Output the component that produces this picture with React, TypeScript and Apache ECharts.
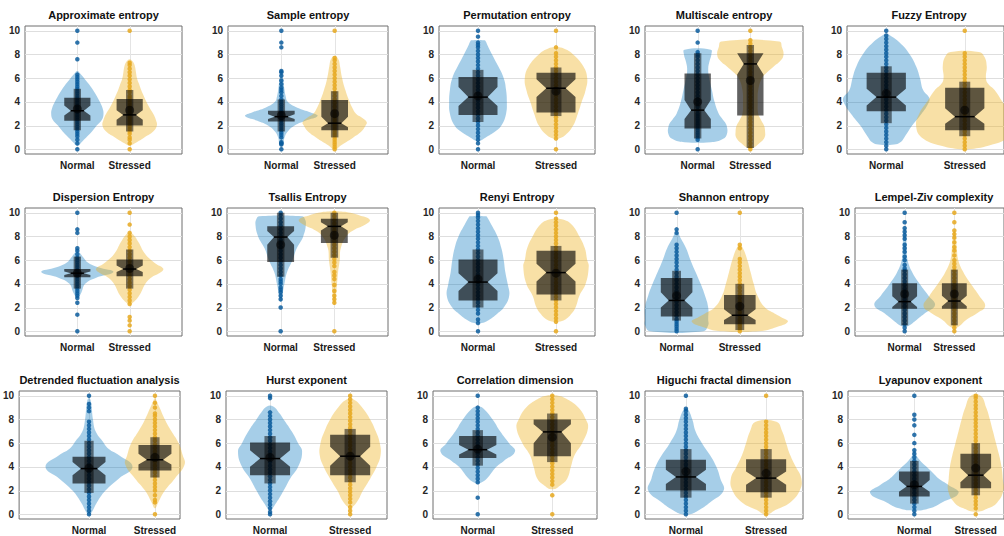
import React, { useEffect, useRef } from 'react';
import * as echarts from 'echarts';

const titles = [
  'Approximate entropy', 'Sample entropy', 'Permutation entropy', 'Multiscale entropy', 'Fuzzy Entropy',
  'Dispersion Entropy', 'Tsallis Entropy', 'Renyi Entropy', 'Shannon entropy', 'Lempel-Ziv complexity',
  'Detrended fluctuation analysis', 'Hurst exponent', 'Correlation dimension', 'Higuchi fractal dimension', 'Lyapunov exponent',
];
const categories = ['Normal', 'Stressed'];
const categoryPos = [1, 2];
const yTicks = [0, 2, 4, 6, 8, 10];

// violin outlines: [value, half-width] pairs, bottom to top
const normalViolins: number[][][] = [
  [[0.3,0.02],[0.6,0.08],[1,0.17],[1.5,0.28],[2,0.37],[2.5,0.47],[3,0.5],[3.5,0.48],[4,0.43],[4.5,0.37],[5,0.3],[5.5,0.22],[6,0.13],[6.3,0.07],[6.6,0]],
  [[0.3,0.02],[0.5,0.04],[1,0.06],[1.5,0.12],[2,0.25],[2.4,0.45],[2.8,0.68],[3.1,0.55],[3.5,0.3],[4,0.12],[4.5,0.08],[5,0.06],[6,0.03],[6.6,0]],
  [[0.7,0.02],[1,0.1],[1.5,0.22],[2,0.3],[3,0.36],[4,0.37],[5,0.36],[6,0.33],[7,0.26],[8,0.18],[8.8,0.12],[9.1,0.1],[9.2,0.08]],
  [[0.6,0.25],[0.8,0.45],[1.2,0.55],[2,0.55],[2.5,0.48],[3,0.4],[4,0.32],[5,0.27],[6,0.22],[6.8,0.2],[7.5,0.23],[8,0.26],[8.4,0.25]],
  [[0.4,0.1],[0.6,0.18],[1,0.23],[2,0.33],[3,0.45],[3.8,0.53],[4.3,0.55],[5,0.47],[6,0.43],[7,0.38],[8,0.3],[9,0.17],[9.6,0.05],[9.7,0]],
  [[2.9,0.02],[3.3,0.08],[4,0.15],[4.5,0.35],[5,0.69],[5.4,0.4],[5.8,0.2],[6.2,0.12],[6.6,0.05],[6.8,0]],
  [[2.5,0.01],[3,0.03],[4,0.07],[5,0.12],[6,0.22],[7,0.3],[8,0.42],[9,0.47],[9.5,0.45],[9.7,0.4]],
  [[0.7,0.05],[1,0.15],[1.5,0.25],[2,0.33],[3,0.4],[4,0.38],[5,0.35],[6,0.33],[7,0.3],[8,0.25],[9,0.17],[9.6,0.12],[9.7,0.1]],
  [[0,0.42],[0.5,0.5],[1,0.5],[2,0.5],[3,0.45],[4,0.38],[5,0.3],[6,0.22],[7,0.15],[7.8,0.07],[8.4,0]],
  [[0.4,0.05],[1,0.25],[1.5,0.4],[2.2,0.61],[3,0.48],[4,0.3],[5,0.15],[6,0.06],[7,0.04],[8,0.03],[8.7,0]],
  [[0,0.02],[1,0.12],[2,0.25],[3,0.45],[4,0.66],[5,0.45],[5.5,0.3],[6.2,0.2],[7,0.1],[8,0.06],[9.5,0.03],[9.8,0]],
  [[0.4,0],[1,0.08],[2,0.17],[3,0.25],[4,0.35],[5.3,0.4],[6,0.35],[7,0.27],[8,0.17],[8.5,0.12],[9.1,0.04]],
  [[2.6,0.02],[3,0.12],[4,0.25],[4.5,0.35],[5.3,0.5],[6,0.42],[7,0.3],[8,0.2],[9,0.06],[9.1,0]],
  [[0,0.05],[0.3,0.15],[1,0.3],[2,0.47],[3,0.43],[4,0.38],[5,0.3],[6,0.2],[7,0.12],[8,0.08],[8.9,0.02]],
  [[0.3,0],[0.5,0.25],[1,0.45],[1.8,0.72],[2.5,0.55],[3,0.4],[3.5,0.3],[4,0.2],[4.5,0.1],[5,0.03],[5.5,0]],
];
const stressedViolins: number[][][] = [
  [[0.3,0.02],[0.5,0.1],[1,0.28],[1.5,0.45],[2,0.52],[2.5,0.5],[3,0.45],[3.5,0.38],[4,0.32],[4.5,0.27],[5,0.22],[5.5,0.18],[6,0.14],[6.5,0.12],[7,0.1],[7.4,0.06],[7.6,0]],
  [[0,0.03],[0.2,0.08],[0.5,0.18],[1,0.35],[1.5,0.5],[2,0.58],[2.3,0.6],[2.7,0.5],[3,0.4],[3.5,0.33],[4,0.28],[5,0.2],[6,0.14],[7,0.1],[7.6,0.07],[7.9,0]],
  [[0.9,0.03],[1.2,0.12],[2,0.22],[3,0.28],[4,0.33],[5,0.38],[6,0.4],[7,0.35],[8,0.22],[8.5,0.1],[8.6,0]],
  [[0.1,0.05],[0.5,0.17],[1,0.27],[1.5,0.28],[2,0.26],[2.5,0.2],[3,0.15],[4,0.14],[5,0.15],[6,0.22],[6.5,0.32],[7,0.45],[7.5,0.58],[8,0.63],[8.6,0.6],[9.1,0.55]],
  [[0,0.05],[0.3,0.3],[1,0.55],[2,0.62],[3,0.58],[4,0.48],[5,0.38],[5.5,0.3],[6,0.27],[7,0.28],[7.8,0.25],[8.2,0.18]],
  [[2.3,0.03],[3,0.18],[4,0.3],[4.5,0.4],[5,0.6],[5.3,0.64],[5.7,0.5],[6.5,0.3],[7.5,0.17],[8,0.1],[8.3,0.03]],
  [[2.3,0.01],[3,0.03],[4,0.05],[5,0.07],[6,0.1],[7,0.12],[8,0.22],[8.5,0.35],[9,0.58],[9.4,0.66],[9.8,0.45],[10,0.3],[10.1,0.1]],
  [[0.8,0.03],[1,0.12],[1.5,0.2],[2,0.25],[3,0.3],[4,0.38],[5.5,0.42],[6,0.4],[7,0.37],[8,0.3],[9,0.2],[9.4,0.1],[9.5,0]],
  [[0,0.3],[0.3,0.55],[0.8,0.76],[1.2,0.65],[1.5,0.55],[2,0.4],[3,0.28],[4,0.22],[5,0.17],[6,0.12],[7,0.05],[7.3,0]],
  [[0.3,0.05],[1,0.25],[1.5,0.45],[2.1,0.62],[3,0.5],[4,0.33],[5,0.18],[6,0.08],[7,0.05],[8,0.03],[8.5,0]],
  [[0.5,0],[1,0.05],[2,0.15],[3,0.3],[4.2,0.45],[5,0.42],[6,0.36],[7,0.25],[8,0.15],[9,0.07],[9.5,0.03],[9.8,0]],
  [[0.6,0],[1,0.08],[2,0.16],[3,0.25],[4,0.33],[5,0.38],[6,0.37],[7,0.32],[8,0.25],[9,0.15],[9.7,0.04]],
  [[2.1,0],[2.5,0.12],[3,0.2],[4,0.25],[5,0.3],[6,0.4],[7.3,0.48],[8,0.45],[9,0.35],[9.7,0.2],[10,0.08]],
  [[0,0.03],[0.3,0.1],[1,0.3],[2,0.42],[3,0.44],[4,0.37],[5,0.3],[6,0.25],[7,0.2],[7.8,0.13]],
  [[0.2,0],[0.5,0.2],[1,0.35],[2,0.45],[3,0.44],[4,0.42],[5,0.38],[6,0.33],[7,0.28],[8,0.23],[9,0.17],[10,0.08]],
];

// box statistics: [whiskerLow, q1, notchLow, median, notchHigh, q3, whiskerHigh, mean]
const normalBoxes: number[][] = [
  [1.6, 2.4, 2.85, 3.25, 3.7, 4.35, 5.1, 3.4],
  [1.5, 2.35, 2.55, 2.75, 2.95, 3.25, 4.2, 2.85],
  [2.3, 2.9, 3.65, 4.4, 5.25, 6.1, 6.7, 4.5],
  [0.9, 1.75, 2.55, 3.3, 4.15, 6.4, 8.1, 4.0],
  [2.2, 3.2, 3.7, 4.4, 5.1, 6.45, 7.0, 4.7],
  [3.6, 4.55, 4.75, 4.9, 5.05, 5.25, 6.3, 4.9],
  [4.6, 5.85, 7.3, 7.95, 8.45, 8.85, 10, 7.3],
  [2.0, 2.6, 3.4, 4.15, 4.9, 6.05, 6.9, 4.4],
  [0.9, 1.25, 2.0, 2.6, 3.3, 4.5, 5.1, 3.0],
  [0.5, 1.9, 2.05, 2.5, 2.95, 4.05, 5.2, 3.15],
  [1.8, 2.6, 3.3, 3.85, 4.4, 4.85, 6.2, 3.9],
  [2.6, 3.3, 4.0, 4.7, 5.4, 6.05, 6.6, 4.8],
  [4.1, 4.75, 5.05, 5.45, 5.85, 6.6, 7.1, 5.5],
  [1.4, 2.0, 2.55, 3.15, 3.75, 4.6, 5.5, 3.6],
  [0.9, 1.5, 1.9, 2.35, 2.9, 3.6, 4.5, 2.5],
];
const stressedBoxes: number[][] = [
  [1.5, 2.0, 2.5, 2.9, 3.3, 4.25, 5.0, 3.3],
  [1.0, 1.6, 1.85, 2.2, 2.75, 4.15, 4.9, 3.0],
  [2.8, 3.1, 4.4, 5.15, 5.9, 6.45, 6.9, 4.9],
  [0.1, 2.85, 6.3, 7.2, 8.1, 8.1, 8.8, 5.8],
  [1.1, 1.6, 2.15, 2.75, 3.45, 5.2, 5.7, 3.3],
  [3.6, 4.65, 5.0, 5.25, 5.55, 6.05, 6.9, 5.3],
  [6.2, 7.45, 8.5, 8.85, 9.2, 9.5, 10, 8.1],
  [2.6, 3.1, 4.2, 4.95, 5.7, 6.8, 7.2, 4.9],
  [0.1, 0.6, 0.95, 1.35, 1.85, 3.05, 4.0, 2.1],
  [0.5, 1.9, 2.1, 2.55, 3.0, 4.05, 5.2, 3.15],
  [3.1, 3.7, 4.2, 4.6, 5.1, 5.85, 6.5, 4.8],
  [2.7, 3.3, 4.1, 4.9, 5.7, 6.7, 7.2, 4.9],
  [4.4, 4.9, 6.0, 6.95, 7.6, 8.0, 8.5, 6.5],
  [1.4, 1.85, 2.5, 3.05, 3.6, 4.65, 5.5, 3.45],
  [1.6, 2.2, 2.7, 3.3, 3.9, 5.1, 6.0, 3.9],
];

// individual observations
const normalPoints: number[][] = [
  [0,0.5,0.8,1.1,1.3,1.5,1.7,1.9,2.1,2.3,2.5,2.7,2.9,3.1,3.3,3.5,3.7,3.9,4.1,4.3,4.5,4.7,4.9,5.1,5.3,5.5,5.7,5.9,6.1,6.3,7.6,9.0,10],
  [0,0.4,0.5,0.6,1.0,1.2,1.4,1.6,1.8,2.0,2.2,2.4,2.6,2.8,3.0,3.2,3.4,3.6,3.8,4.0,4.2,4.5,4.8,5.0,5.2,5.5,5.8,6.2,6.5,6.6,8.6,9.0,10],
  [0,0.5,0.8,1.1,1.4,1.7,2.0,2.3,2.6,2.9,3.2,3.5,3.8,4.1,4.4,4.7,5.0,5.3,5.6,5.9,6.2,6.5,6.8,7.1,7.4,7.7,8.0,8.3,8.6,8.8,9.0,9.5,10],
  [0,0.8,1.0,1.2,1.4,1.6,1.8,2.0,2.2,2.4,2.6,2.8,3.0,3.3,3.6,3.9,4.2,4.5,4.8,5.1,5.4,5.7,6.0,6.3,6.6,6.9,7.2,7.5,7.8,8.0,8.2,9.0,10],
  [0,0.3,0.6,0.9,1.2,1.5,1.8,2.1,2.4,2.7,3.0,3.3,3.6,3.9,4.2,4.5,4.8,5.1,5.4,5.7,6.0,6.3,6.6,6.9,7.2,7.5,7.8,8.1,8.4,8.7,9.0,9.3,9.6,10],
  [0,1.4,2.4,2.8,3.0,3.2,3.4,3.6,3.8,4.0,4.2,4.4,4.6,4.8,5.0,5.2,5.4,5.6,5.8,6.0,6.2,6.5,6.8,7.0,8.3,8.6,10],
  [0,2.0,2.7,3.0,3.3,3.5,3.7,4.0,4.2,4.4,4.7,5.0,5.3,5.6,5.9,6.2,6.5,6.8,7.1,7.4,7.7,8.0,8.3,8.6,8.9,9.2,9.5,9.8,10],
  [0,0.7,1.0,1.5,1.8,2.1,2.4,2.7,3.0,3.3,3.6,3.9,4.2,4.5,4.8,5.1,5.4,5.7,6.0,6.3,6.6,6.9,7.2,7.5,7.8,8.1,8.4,8.7,9.0,9.3,9.6,9.8,10],
  [0,0.2,0.4,0.6,0.8,1.0,1.3,1.6,1.9,2.2,2.5,2.8,3.1,3.4,3.7,4.0,4.3,4.6,4.9,5.2,5.5,5.8,6.1,6.4,6.7,7.0,7.3,8.3,8.6,10],
  [0,0.3,0.6,0.9,1.2,1.5,1.8,2.1,2.4,2.7,3.0,3.3,3.6,3.9,4.2,4.5,4.8,5.1,5.3,5.6,6.0,6.3,6.7,7.0,7.3,7.8,8.1,8.4,8.7,9.2,10],
  [0,0.3,0.6,0.9,1.2,1.5,1.8,2.1,2.4,2.7,3.0,3.3,3.6,3.9,4.2,4.5,4.8,5.1,5.4,5.7,6.0,6.3,6.6,6.9,7.2,7.5,7.8,8.7,9.0,9.3,10],
  [0,0.2,0.5,0.8,1.1,1.4,1.7,2.0,2.3,2.6,2.9,3.2,3.5,3.8,4.1,4.4,4.7,5.0,5.3,5.6,5.9,6.2,6.5,6.8,7.1,7.4,7.7,8.0,8.3,8.6,9.8,10],
  [0,1.4,2.7,3.0,3.3,3.6,3.9,4.2,4.5,4.8,5.1,5.4,5.7,6.0,6.3,6.6,6.9,7.2,7.5,7.8,8.1,8.4,8.7,9.0,10],
  [0,0.3,0.6,0.9,1.2,1.5,1.8,2.1,2.4,2.7,3.0,3.3,3.6,3.9,4.2,4.5,4.8,5.1,5.4,5.7,6.0,6.3,6.6,6.9,7.2,7.5,7.8,8.1,8.4,8.7,8.9,10],
  [0,0.3,0.6,0.9,1.2,1.5,1.8,2.1,2.4,2.7,3.0,3.3,3.6,3.9,4.2,4.5,4.8,5.1,5.4,6.0,6.7,7.5,8.0,8.4,10],
];
const stressedPoints: number[][] = [
  [0,0.5,0.8,1.0,1.3,1.5,1.7,1.9,2.1,2.3,2.5,2.7,2.9,3.1,3.3,3.5,3.7,3.9,4.1,4.3,4.5,4.8,5.0,5.3,5.6,5.9,6.2,6.5,6.8,7.1,7.3,10],
  [0,0.2,0.4,0.6,0.8,1.0,1.2,1.4,1.6,1.8,2.0,2.2,2.4,2.6,2.8,3.0,3.3,3.6,3.9,4.2,4.5,4.8,5.1,5.4,5.7,6.0,6.3,6.6,6.9,7.2,7.5,7.7,10],
  [0,0.9,1.2,1.5,1.8,2.1,2.4,2.7,3.0,3.3,3.6,3.9,4.2,4.5,4.8,5.1,5.4,5.7,6.0,6.3,6.6,6.9,7.2,7.5,7.8,8.1,8.6,10],
  [0,0.2,0.5,0.8,1.1,1.4,1.7,2.0,2.3,2.6,2.9,3.2,3.5,3.8,4.1,4.4,4.7,5.0,5.3,5.6,5.9,6.2,6.5,6.8,7.1,7.4,7.7,8.0,8.3,8.6,8.9,9.2,10],
  [0,0.3,0.6,0.9,1.2,1.5,1.8,2.1,2.4,2.7,3.0,3.3,3.6,3.9,4.2,4.5,4.8,5.1,5.4,5.7,6.0,6.3,6.6,6.9,7.2,7.5,7.8,8.1,10],
  [0,0.5,0.9,1.2,2.3,2.6,2.9,3.2,3.5,3.8,4.1,4.4,4.7,5.0,5.3,5.6,5.9,6.2,6.5,6.8,7.1,7.4,7.7,8.0,8.3,9.0,10],
  [0,2.4,2.7,3.0,3.4,3.9,4.4,4.7,5.0,5.5,5.8,6.1,6.4,6.7,7.0,7.3,7.6,7.9,8.2,8.5,8.8,9.1,9.4,9.7,10],
  [0,0.8,1.1,1.4,1.7,2.0,2.3,2.6,2.9,3.2,3.5,3.8,4.1,4.4,4.7,5.0,5.3,5.6,5.9,6.2,6.5,6.8,7.1,7.4,7.7,8.0,8.3,8.6,8.9,9.2,9.5,10],
  [0,0.2,0.4,0.6,0.8,1.0,1.3,1.6,1.9,2.2,2.5,2.8,3.1,3.4,3.7,4.0,4.3,4.6,4.9,5.2,5.5,5.8,6.1,7.0,7.3,10],
  [0,0.3,0.6,0.9,1.2,1.5,1.8,2.1,2.4,2.7,3.0,3.3,3.6,3.9,4.2,4.5,4.8,5.1,5.4,5.7,6.0,6.4,6.8,7.1,7.5,7.9,8.2,8.5,9.2,10],
  [0,1.0,1.2,1.6,2.0,2.3,2.6,2.9,3.2,3.5,3.8,4.1,4.4,4.7,5.0,5.3,5.6,5.9,6.2,6.5,6.8,7.1,7.4,7.7,8.0,8.3,8.5,9.0,9.4,10],
  [0,0.3,0.6,1.0,1.3,1.6,1.9,2.2,2.5,2.8,3.1,3.4,3.7,4.0,4.3,4.6,4.9,5.2,5.5,5.8,6.1,6.4,6.7,7.0,7.3,7.6,7.9,8.2,8.5,8.8,9.1,9.4,9.7,10],
  [0,1.6,2.5,2.8,3.1,3.4,3.7,4.0,4.3,4.6,4.9,5.2,5.5,5.8,6.1,6.4,6.7,7.0,7.3,7.6,7.9,8.2,8.5,8.8,9.1,9.4,9.7,10],
  [0,0.3,0.6,0.9,1.2,1.5,1.8,2.1,2.4,2.7,3.0,3.3,3.6,3.9,4.2,4.5,4.8,5.1,5.4,5.7,6.0,6.3,6.6,6.9,7.2,7.5,7.8,10],
  [0,0.5,0.8,1.1,1.4,1.7,2.0,2.3,2.6,2.9,3.2,3.5,3.8,4.1,4.4,4.7,5.0,5.3,5.6,5.9,6.2,6.5,6.8,7.1,7.4,7.7,8.0,8.3,8.6,8.9,9.2,9.5,9.8,10],
];

// layout (pixels / axis limits)
const rowTop = [26, 208, 391];
const plotHeight = 128;
const panelLeft = [25, 228, 439, 645, 847, 25, 227, 439, 645, 855, 19, 226, 433, 645, 848];
const panelWidth = [157, 160, 156, 158, 164, 157, 161, 156, 158, 158, 161, 161, 164, 158, 165];
const xMinArr = [0, 0, 0.5, 0, 0.5, 0, 0, 0.5, 0.5, 0, -0.06, 0.45, 0.4, 0.49, -0.08];
const xMaxArr = [3, 3, 2.5, 3, 2.5, 3, 3, 2.5, 3.0, 3, 2.38, 2.46, 2.6, 2.46, 2.46];

const FONT = '"Liberation Sans", Arial, Helvetica, sans-serif';
const violinFill = ['rgba(0,114,189,0.35)', 'rgba(237,177,32,0.4)'];
const dotColor = ['#0a5c9c', '#e6a81e'];

export default function App() {
  const ref = useRef<HTMLDivElement>(null);
  useEffect(() => {
    document.body.style.margin = '0';
    const chart = echarts.init(ref.current as HTMLDivElement, null, { renderer: 'svg' });
    const grid: any[] = [];
    const xAxis: any[] = [];
    const yAxis: any[] = [];
    const series: any[] = [];
    const title: any[] = [];

    for (let p = 0; p < titles.length; p++) {
      const row = Math.floor(p / 5);
      const top = rowTop[row];
      const xMin = xMinArr[p];
      grid.push({
        left: panelLeft[p], top, width: panelWidth[p], height: plotHeight,
        show: true, borderColor: '#6e6e6e', borderWidth: 1, backgroundColor: '#ffffff',
      });
      title.push({
        text: titles[p], left: panelLeft[p] + panelWidth[p] / 2, top: top - 17,
        textAlign: 'center', padding: 0,
        textStyle: { fontFamily: FONT, fontSize: 11, fontWeight: 'bold', color: '#111' },
      });
      xAxis.push({
        type: 'value', gridIndex: p, min: xMin, max: xMaxArr[p],
        axisLine: { show: false }, axisTick: { show: false }, splitLine: { show: false },
        axisLabel: {
          customValues: categoryPos,
          formatter: (v: number) => {
            const i = categoryPos.findIndex((c) => Math.abs(c - v) < 1e-6);
            return i >= 0 ? categories[i] : '';
          },
          fontFamily: FONT, fontSize: 10, fontWeight: 'bold', color: '#1a1a1a', margin: 6,
        },
      });
      yAxis.push({
        type: 'value', gridIndex: p, min: -0.4, max: 10.4,
        axisLine: { show: false }, axisTick: { show: false }, splitLine: { show: false },
        axisLabel: {
          customValues: yTicks,
          fontFamily: FONT, fontSize: 10, fontWeight: 'bold', color: '#262626', margin: 5,
        },
      });

      // grid lines
      series.push({
        type: 'custom', xAxisIndex: p, yAxisIndex: p, silent: true, z: 1,
        data: yTicks.map((v) => [0, v]).concat(categoryPos.map((v) => [1, v])),
        renderItem: (params: any, api: any) => {
          const kind = api.value(0);
          const v = api.value(1);
          const cs = params.coordSys;
          if (kind === 0) {
            const y = Math.round(api.coord([xMin, v])[1]) + 0.5;
            return { type: 'line', shape: { x1: cs.x, y1: y, x2: cs.x + cs.width, y2: y }, style: { stroke: '#dedede', lineWidth: 1 } };
          }
          const x = Math.round(api.coord([v, 0])[0]) + 0.5;
          return { type: 'line', shape: { x1: x, y1: cs.y, x2: x, y2: cs.y + cs.height }, style: { stroke: '#e4e4e4', lineWidth: 1 } };
        },
      });

      // violins
      series.push({
        type: 'custom', xAxisIndex: p, yAxisIndex: p, silent: true, z: 2,
        data: categoryPos.map((c) => [c, 5]),
        renderItem: (params: any, api: any) => {
          const g = params.dataIndex;
          const prof = (g === 0 ? normalViolins : stressedViolins)[p];
          const c = categoryPos[g];
          const right = prof.map(([y, w]) => api.coord([c + w, y]));
          const left = prof.slice().reverse().filter(([, w]) => w > 0).map(([y, w]) => api.coord([c - w, y]));
          return {
            type: 'polygon',
            shape: { points: right.concat(left), smooth: 0.45 },
            style: { fill: violinFill[g], stroke: 'none' },
          };
        },
      });

      // observations
      [normalPoints, stressedPoints].forEach((pts, g) => {
        series.push({
          type: 'scatter', xAxisIndex: p, yAxisIndex: p, silent: true, z: 3,
          symbol: 'circle', symbolSize: 4.5,
          itemStyle: { color: dotColor[g], opacity: 0.85 },
          data: pts[p].map((v) => [categoryPos[g], v]),
        });
      });

      // notched boxes
      series.push({
        type: 'custom', xAxisIndex: p, yAxisIndex: p, silent: true, z: 4,
        data: categoryPos.map((c) => [c, 5]),
        renderItem: (params: any, api: any) => {
          const g = params.dataIndex;
          const [wLo, q1, nLo, med, nHi, q3, wHi, mean] = (g === 0 ? normalBoxes : stressedBoxes)[p];
          const c = categoryPos[g];
          const bw = 0.25, nw = 0.125, ww = 0.07;
          const pt = (x: number, y: number) => api.coord([x, y]);
          const wa = pt(c - ww, wHi), wb = pt(c + ww, wLo);
          const m1 = pt(c - nw, med), m2 = pt(c + nw, med);
          const mc = pt(c, mean);
          return {
            type: 'group',
            children: [
              { type: 'rect', shape: { x: wa[0], y: wa[1], width: wb[0] - wa[0], height: wb[1] - wa[1] }, style: { fill: 'rgba(0,0,0,0.5)' } },
              {
                type: 'polygon',
                shape: {
                  points: [pt(c - bw, q1), pt(c + bw, q1), pt(c + bw, nLo), pt(c + nw, med), pt(c + bw, nHi), pt(c + bw, q3),
                    pt(c - bw, q3), pt(c - bw, nHi), pt(c - nw, med), pt(c - bw, nLo)],
                },
                style: { fill: 'rgba(0,0,0,0.62)' },
              },
              { type: 'line', shape: { x1: m1[0], y1: m1[1], x2: m2[0], y2: m2[1] }, style: { stroke: '#000', lineWidth: 1.5 } },
              { type: 'circle', shape: { cx: mc[0], cy: mc[1], r: 4.5 }, style: { fill: 'rgba(0,0,0,0.55)' } },
            ],
          };
        },
      });
    }

    chart.setOption({
      animation: false,
      backgroundColor: '#ffffff',
      title, grid, xAxis, yAxis, series,
    });
    return () => chart.dispose();
  }, []);

  return <div ref={ref} style={{ position: 'absolute', left: 0, top: 0, width: 1004, height: 536 }} />;
}
